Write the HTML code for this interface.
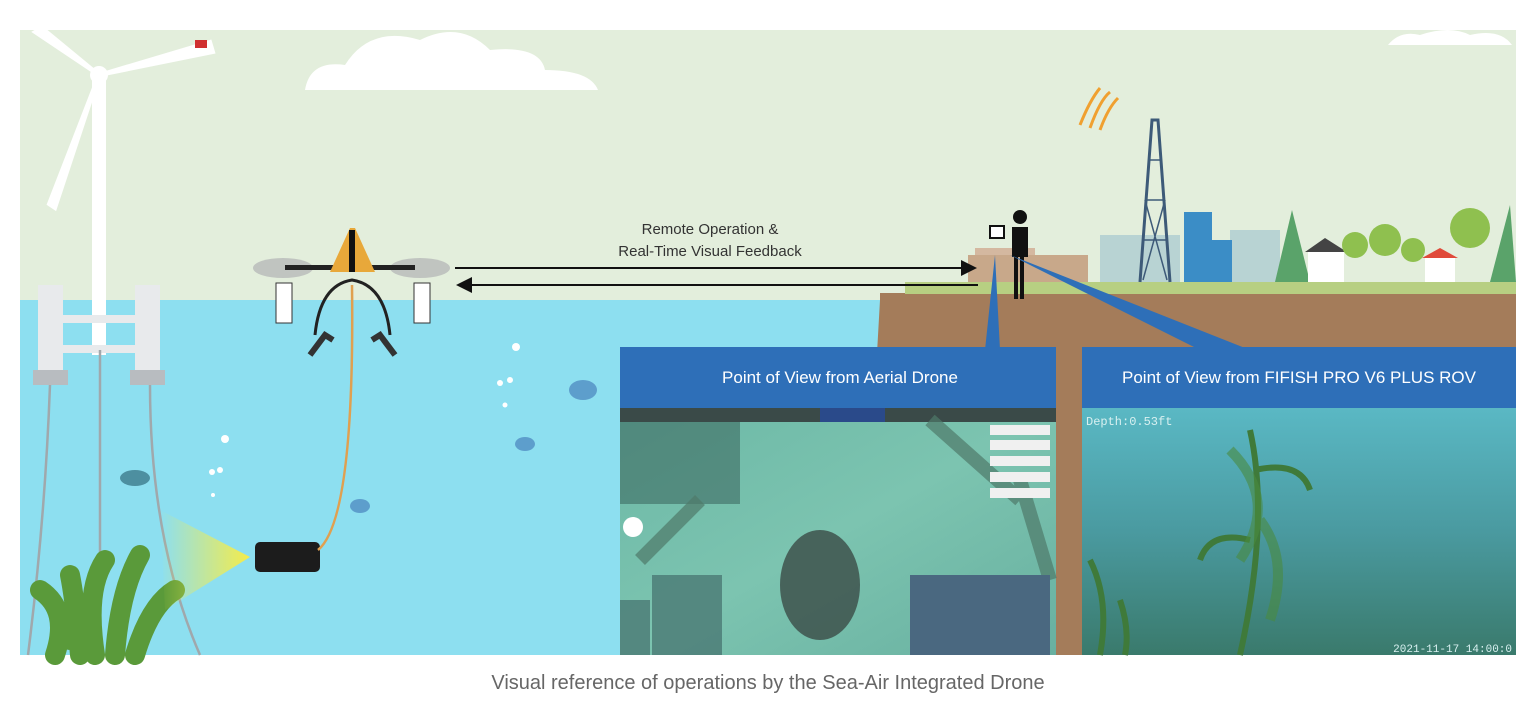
<!DOCTYPE html>
<html><head><meta charset="utf-8"><style>
html,body{margin:0;padding:0;background:#fff;width:1536px;height:719px;overflow:hidden}
svg{display:block}
</style></head><body>
<svg width="1536" height="719" viewBox="0 0 1536 719" xmlns="http://www.w3.org/2000/svg" font-family="Liberation Sans, sans-serif">
<defs>
<linearGradient id="beam" x1="1" y1="0" x2="0" y2="0"><stop offset="0" stop-color="#f5ec4a"/><stop offset="1" stop-color="#f5ec4a" stop-opacity="0"/></linearGradient>
<linearGradient id="uw" x1="0" y1="0" x2="1" y2="1"><stop offset="0" stop-color="#6cb8a6"/><stop offset="0.5" stop-color="#7cc4b0"/><stop offset="1" stop-color="#68b0a0"/></linearGradient>
<linearGradient id="rov" x1="0" y1="0" x2="0" y2="1"><stop offset="0" stop-color="#5ab8c4"/><stop offset="0.5" stop-color="#4a9aa0"/><stop offset="1" stop-color="#3a7a6c"/></linearGradient>
<marker id="ah" markerWidth="8" markerHeight="8" refX="7" refY="4" orient="auto"><path d="M0,0 L8,4 L0,8z" fill="#111"/></marker>
</defs>
<rect x="20" y="30" width="1496" height="625" fill="#e3eedc"/>
<path d="M305 90 Q310 60 345 65 Q370 25 420 40 Q460 20 490 50 Q540 45 545 70 Q590 70 598 90z" fill="#fff"/>
<path d="M1388 45 Q1400 30 1420 35 Q1450 25 1470 35 Q1500 28 1512 45z" fill="#fff"/>
<rect x="20" y="300" width="1496" height="355" fill="#8ddff0"/>
<polygon points="880,293 1516,293 1516,655 860,655 880,300" fill="#a47c5a"/>
<rect x="905" y="282" width="611" height="12" fill="#b7cf82"/>
<rect x="1100" y="235" width="80" height="47" fill="#b8d3d3"/>
<rect x="1230" y="230" width="50" height="52" fill="#b8d3d3"/>
<rect x="968" y="255" width="120" height="27" fill="#c8a88a"/>
<rect x="975" y="248" width="60" height="7" fill="#d4b8a0"/>
<path d="M1140 282 L1152 120 L1158 120 L1170 282" fill="none" stroke="#3d5a78" stroke-width="3"/>
<path d="M1143 240 L1167 240 M1146 200 L1164 200 M1149 160 L1161 160 M1143 280 L1165 200 M1167 280 L1145 200" stroke="#3d5a78" stroke-width="1.5"/>
<path d="M1080 125 Q1090 100 1100 88 M1090 128 Q1100 100 1110 92 M1100 130 Q1108 108 1118 98" stroke="#f0a030" stroke-width="3" fill="none"/>
<rect x="1184" y="212" width="28" height="70" fill="#3b8dc6"/>
<rect x="1210" y="240" width="22" height="42" fill="#3b8dc6"/>
<polygon points="1275,282 1292,210 1310,282" fill="#5aa36a"/>
<rect x="1308" y="250" width="36" height="32" fill="#fff"/><polygon points="1305,252 1325,238 1347,252" fill="#444"/>
<circle cx="1355" cy="245" r="13" fill="#8fc04f"/><circle cx="1385" cy="240" r="16" fill="#8fc04f"/><circle cx="1413" cy="250" r="12" fill="#8fc04f"/>
<rect x="1425" y="258" width="30" height="24" fill="#fff"/><polygon points="1422,258 1440,248 1458,258" fill="#e04a3a"/>
<circle cx="1470" cy="228" r="20" fill="#8fc04f"/><polygon points="1490,282 1510,205 1516,282" fill="#5aa36a"/>
<circle cx="1020" cy="217" r="7" fill="#111"/>
<path d="M1012 227 h16 v30 h-4 v42 h-4 v-42 h-2 v42 h-4 v-42 h-2z" fill="#111"/>
<rect x="990" y="226" width="14" height="12" fill="#fff" stroke="#111" stroke-width="2"/>
<rect x="92" y="75" width="14" height="280" fill="#fff"/>
<path d="M99 75 L35 32 L42 28z M99 75 L210 42 L213 52z M99 75 L55 208 L49 204z" fill="#fff" stroke="#fff" stroke-width="4"/>
<circle cx="99" cy="75" r="9" fill="#fff"/>
<rect x="195" y="40" width="12" height="8" fill="#d03030"/>
<rect x="38" y="285" width="25" height="90" fill="#e8eaec"/><rect x="135" y="285" width="25" height="90" fill="#e8eaec"/>
<rect x="55" y="315" width="90" height="8" fill="#e8eaec"/><rect x="55" y="345" width="90" height="8" fill="#e8eaec"/>
<rect x="33" y="370" width="35" height="15" fill="#b8bcc0"/><rect x="130" y="370" width="35" height="15" fill="#b8bcc0"/>
<path d="M50 385 Q45 520 28 655 M100 350 L100 655 M150 385 Q150 540 200 655" stroke="#a0a8ac" stroke-width="2.5" fill="none"/>
<path d="M55 655 Q70 610 40 590 M80 655 Q75 600 70 575 M95 655 Q85 590 105 560 M115 655 Q120 590 140 555 M135 655 Q150 605 175 590 M70 640 Q60 620 75 610" stroke="#5a9a3a" stroke-width="20" fill="none" stroke-linecap="round"/>
<polygon points="250,557 160,510 165,610" fill="url(#beam)"/>
<rect x="255" y="542" width="65" height="30" rx="5" fill="#1c1c1c"/>
<path d="M318 550 Q355 520 352 285" stroke="#e0a050" stroke-width="2.5" fill="none"/>
<ellipse cx="283" cy="268" rx="30" ry="10" fill="#c0c4c0"/><ellipse cx="420" cy="268" rx="30" ry="10" fill="#c0c4c0"/>
<rect x="285" y="265" width="130" height="5" fill="#222"/>
<path d="M330 272 L350 228 L355 228 L375 272z" fill="#e8a83a"/><rect x="349" y="230" width="6" height="42" fill="#111"/>
<rect x="276" y="283" width="16" height="40" fill="#fff" stroke="#333"/><rect x="414" y="283" width="16" height="40" fill="#fff" stroke="#333"/>
<path d="M315 335 Q320 285 352 280 Q385 285 390 335" stroke="#222" stroke-width="3" fill="none"/>
<path d="M310 355 L325 335 L333 340 M395 355 L380 335 L372 340" stroke="#333" stroke-width="6" fill="none"/>
<circle cx="516" cy="347" r="4" fill="#fff"/><circle cx="500" cy="383" r="3" fill="#fff"/><circle cx="510" cy="380" r="3" fill="#fff"/><circle cx="505" cy="405" r="2.5" fill="#fff"/>
<circle cx="225" cy="439" r="4" fill="#fff"/><circle cx="212" cy="472" r="3" fill="#fff"/><circle cx="220" cy="470" r="3" fill="#fff"/><circle cx="213" cy="495" r="2" fill="#fff"/>
<ellipse cx="583" cy="390" rx="14" ry="10" fill="#5d9ecc"/><ellipse cx="525" cy="444" rx="10" ry="7" fill="#5d9ecc"/>
<ellipse cx="135" cy="478" rx="15" ry="8" fill="#4d8fa0"/><ellipse cx="360" cy="506" rx="10" ry="7" fill="#5d9ecc"/>
<line x1="455" y1="268" x2="975" y2="268" stroke="#111" stroke-width="2" marker-end="url(#ah)"/>
<line x1="978" y1="285" x2="458" y2="285" stroke="#111" stroke-width="2" marker-end="url(#ah)"/>
<text x="710" y="234" font-size="15" text-anchor="middle" fill="#333">Remote Operation &amp;</text>
<text x="710" y="256" font-size="15" text-anchor="middle" fill="#333">Real-Time Visual Feedback</text>
<polygon points="995,255 985,350 1000,350" fill="#2e6fb8"/>
<polygon points="1010,255 1200,350 1250,350" fill="#2e6fb8"/>
<rect x="620" y="347" width="436" height="61" fill="#2e6fb8"/>
<text x="840" y="383" font-size="17" text-anchor="middle" fill="#fff">Point of View from Aerial Drone</text>
<rect x="620" y="408" width="436" height="247" fill="url(#uw)"/>
<rect x="620" y="408" width="436" height="14" fill="#3a4a48"/>
<rect x="820" y="408" width="65" height="14" fill="#2a4a8a"/>
<rect x="620" y="422" width="120" height="82" fill="#3e6a62" opacity="0.6"/>
<circle cx="633" cy="527" r="10" fill="#fff"/>
<path d="M640 560 L700 500 M930 420 L1020 500 M1020 480 L1050 580" stroke="#4f7a6a" stroke-width="14" opacity="0.7"/>
<ellipse cx="820" cy="585" rx="40" ry="55" fill="#3e524c" opacity="0.85"/>
<rect x="652" y="575" width="70" height="80" fill="#3a6060" opacity="0.6"/>
<rect x="620" y="600" width="30" height="55" fill="#3a6060" opacity="0.6"/>
<rect x="910" y="575" width="140" height="80" fill="#4a6880"/>
<rect x="990" y="425" width="60" height="10" fill="#f0f0f0"/><rect x="990" y="440" width="60" height="10" fill="#f0f0f0"/><rect x="990" y="456" width="60" height="10" fill="#f0f0f0"/><rect x="990" y="472" width="60" height="10" fill="#f0f0f0"/><rect x="990" y="488" width="60" height="10" fill="#f0f0f0"/>
<rect x="1082" y="347" width="434" height="61" fill="#2e6fb8"/>
<text x="1299" y="383" font-size="17" text-anchor="middle" fill="#fff">Point of View from FIFISH PRO V6 PLUS ROV</text>
<rect x="1082" y="408" width="434" height="247" fill="url(#rov)"/>
<path d="M1250 430 Q1270 520 1240 655 M1255 470 Q1300 460 1310 490 M1250 540 Q1210 530 1200 560 M1090 560 Q1110 600 1100 655 M1120 600 Q1130 630 1125 655" stroke="#3f7a3a" stroke-width="6" fill="none"/>
<path d="M1230 450 Q1280 500 1240 560 M1260 520 Q1290 560 1270 620" stroke="#4a8a40" stroke-width="10" fill="none" opacity="0.6"/>
<text x="1086" y="425" font-size="12" fill="#d8f0f0" font-family="Liberation Mono, monospace">Depth:0.53ft</text>
<text x="1512" y="652" font-size="11" fill="#d8f0f0" text-anchor="end" font-family="Liberation Mono, monospace">2021-11-17 14:00:0</text>
<text x="768" y="689" font-size="20" text-anchor="middle" fill="#666">Visual reference of operations by the Sea-Air Integrated Drone</text>
</svg>
</body></html>
